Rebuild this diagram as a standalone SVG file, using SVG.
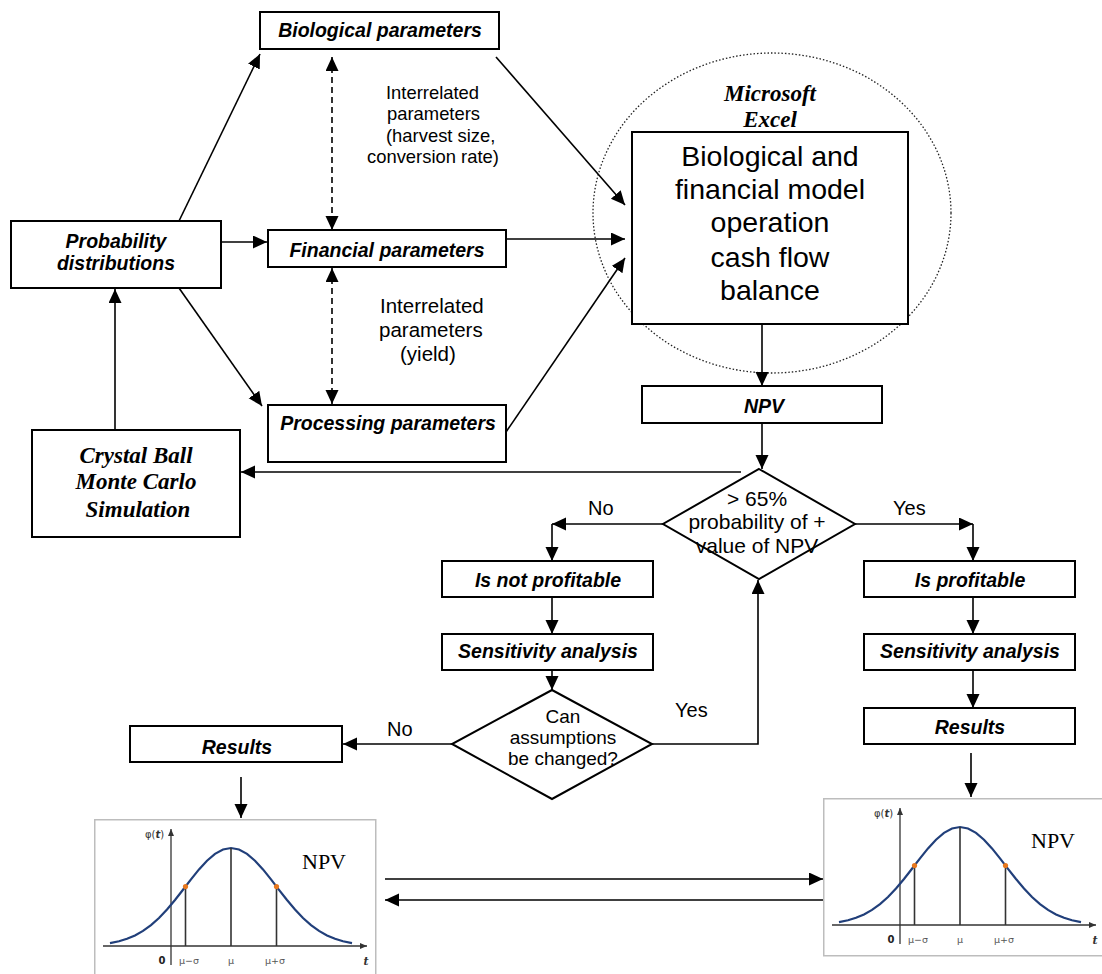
<svg xmlns="http://www.w3.org/2000/svg" width="1102" height="974" viewBox="0 0 1102 974">
<defs>
<style>
.box{fill:#fff;stroke:#000;stroke-width:2}
.ln{fill:none;stroke:#000;stroke-width:1.6}
.dash{fill:none;stroke:#000;stroke-width:1.6;stroke-dasharray:6 4}
.bt{font-family:"Liberation Sans",Arial,sans-serif;font-weight:bold;font-style:italic;font-size:19.5px;text-anchor:middle;fill:#000}
.st{font-family:"Liberation Serif","Times New Roman",serif;font-weight:bold;font-style:italic;font-size:23px;text-anchor:middle;fill:#000}
.rt{font-family:"Liberation Sans",Arial,sans-serif;font-size:20px;fill:#000}
.lab1{font-family:"Liberation Sans",Arial,sans-serif;font-size:18.4px;fill:#000}
.lab2{font-family:"Liberation Sans",Arial,sans-serif;font-size:20.5px;fill:#000}
.big{font-family:"Liberation Sans",Arial,sans-serif;font-size:28.5px;text-anchor:middle;fill:#000}
.d1{font-family:"Liberation Sans",Arial,sans-serif;font-size:21px;text-anchor:middle;fill:#000}
.d2{font-family:"Liberation Sans",Arial,sans-serif;font-size:19px;text-anchor:middle;fill:#000}
.cl{font-family:"DejaVu Sans",sans-serif;font-size:9.5px;fill:#555;text-anchor:middle}
</style>
<marker id="ah" markerUnits="userSpaceOnUse" markerWidth="15" markerHeight="14" refX="14" refY="6.5" orient="auto"><path d="M0,0 L14,6.5 L0,13 Z" fill="#000"/></marker>
<marker id="ahs" markerUnits="userSpaceOnUse" markerWidth="15" markerHeight="14" refX="14" refY="6.5" orient="auto-start-reverse"><path d="M0,0 L14,6.5 L0,13 Z" fill="#000"/></marker>
<marker id="sm" markerUnits="userSpaceOnUse" markerWidth="8" markerHeight="7" refX="7" refY="3" orient="auto"><path d="M0,0 L7,3 L0,6 Z" fill="#333"/></marker>
<g id="chart">
<rect x="0.75" y="0.75" width="281" height="157" fill="#fff" stroke="#bdbdbd" stroke-width="1.5"/>
<line x1="9" y1="127" x2="273" y2="127" stroke="#333" stroke-width="1.3" marker-end="url(#sm)"/>
<line x1="77" y1="146" x2="77" y2="10" stroke="#333" stroke-width="1.3" marker-end="url(#sm)"/>
<polyline fill="none" stroke="#213f7a" stroke-width="2.2" points="16,124.1 25,122.3 33,119.8 41,116.4 49,111.9 57,106.1 65,99 73,90.5 81,81 89,70.8 97,60.4 105,50.4 113,41.7 121,34.9 129,30.5 137,29 145,30.5 153,34.9 161,41.7 169,50.4 177,60.4 185,70.8 193,81 201,90.5 209,99 217,106.1 225,111.9 233,116.4 241,119.8 249,122.3 258,124.1"/>
<g stroke="#333" stroke-width="1.6">
<line x1="91.5" y1="67.6" x2="91.5" y2="127"/>
<line x1="137" y1="29" x2="137" y2="127"/>
<line x1="182.5" y1="67.6" x2="182.5" y2="127"/>
</g>
<circle cx="91.5" cy="67.6" r="2.6" fill="#e8781e"/>
<circle cx="182.5" cy="67.6" r="2.6" fill="#e8781e"/>
<text x="51" y="19" font-family="DejaVu Sans,sans-serif" font-size="10px" fill="#333">φ(<tspan font-style="italic" font-weight="bold">t</tspan>)</text>
<text x="68" y="145" font-family="DejaVu Sans,sans-serif" font-size="10px" font-weight="bold" fill="#222" text-anchor="middle">0</text>
<text x="95" y="145" class="cl">μ−σ</text>
<text x="137" y="145" class="cl">μ</text>
<text x="181" y="145" class="cl">μ+σ</text>
<text x="272" y="146" font-family="DejaVu Serif,serif" font-size="11px" font-style="italic" font-weight="bold" fill="#333" text-anchor="middle">t</text>
<text x="208" y="50" font-family="Liberation Serif,'Times New Roman',serif" font-size="22px" fill="#000">NPV</text>
</g>
</defs>
<rect width="1102" height="974" fill="#fff"/>

<g id="excel-zone">
<ellipse cx="772" cy="213" rx="179" ry="160" fill="none" stroke="#222" stroke-width="1.3" stroke-dasharray="1.5 2"/>
<text x="770" y="101" class="st">Microsoft</text>
<text x="770" y="127" class="st">Excel</text>
</g>

<g id="connectors">
<line class="ln" x1="179" y1="221" x2="260" y2="54" marker-end="url(#ah)"/>
<line class="ln" x1="221" y1="242" x2="267" y2="242" marker-end="url(#ah)"/>
<line class="ln" x1="179" y1="288" x2="262" y2="406" marker-end="url(#ah)"/>
<line class="ln" x1="115" y1="430" x2="115" y2="289" marker-end="url(#ah)"/>
<line class="dash" x1="332" y1="57" x2="332" y2="230" marker-start="url(#ahs)" marker-end="url(#ahs)"/>
<line class="dash" x1="332" y1="268" x2="332" y2="404" marker-start="url(#ahs)" marker-end="url(#ahs)"/>
<line class="ln" x1="496" y1="57" x2="625" y2="205" marker-end="url(#ah)"/>
<line class="ln" x1="506" y1="239" x2="625" y2="239" marker-end="url(#ah)"/>
<line class="ln" x1="506" y1="432" x2="625" y2="258" marker-end="url(#ah)"/>
<line class="ln" x1="762" y1="324" x2="762" y2="386" marker-end="url(#ah)"/>
<line class="ln" x1="762" y1="423" x2="762" y2="469" marker-end="url(#ah)"/>
<line class="ln" x1="741" y1="472" x2="241" y2="472" marker-end="url(#ah)"/>
<line class="ln" x1="663" y1="524" x2="552" y2="524" marker-end="url(#ah)"/>
<line class="ln" x1="552" y1="524" x2="552" y2="561" marker-end="url(#ah)"/>
<line class="ln" x1="855" y1="524" x2="973" y2="524" marker-end="url(#ah)"/>
<line class="ln" x1="973" y1="524" x2="973" y2="561" marker-end="url(#ah)"/>
<line class="ln" x1="552" y1="597" x2="552" y2="634" marker-end="url(#ah)"/>
<line class="ln" x1="552" y1="670" x2="552" y2="690" marker-end="url(#ah)"/>
<line class="ln" x1="452" y1="744" x2="343" y2="744" marker-end="url(#ah)"/>
<polyline class="ln" points="652,744 758,744 758,580" marker-end="url(#ah)"/>
<line class="ln" x1="973" y1="597" x2="973" y2="634" marker-end="url(#ah)"/>
<line class="ln" x1="973" y1="670" x2="973" y2="708" marker-end="url(#ah)"/>
<line class="ln" x1="971" y1="753" x2="971" y2="797" marker-end="url(#ah)"/>
<line class="ln" x1="241" y1="777" x2="241" y2="818" marker-end="url(#ah)"/>
<line class="ln" x1="385" y1="879" x2="823" y2="879" marker-end="url(#ah)"/>
<line class="ln" x1="823" y1="900" x2="385" y2="900" marker-end="url(#ah)"/>
<text x="588" y="515" class="rt">No</text>
<text x="893" y="515" class="rt">Yes</text>
<text x="387" y="736" class="rt">No</text>
<text x="675" y="717" class="rt">Yes</text>
<text x="386" y="99" class="lab1">Interrelated</text>
<text x="387" y="120" class="lab1">parameters</text>
<text x="386" y="142" class="lab1">(harvest size,</text>
<text x="367" y="163" class="lab1">conversion rate)</text>
<text x="380" y="313" class="lab2">Interrelated</text>
<text x="379" y="337" class="lab2">parameters</text>
<text x="400" y="361" class="lab2">(yield)</text>
</g>

<g id="biological">
<rect class="box" x="260" y="12" width="239" height="37"/>
<text x="380" y="37" class="bt">Biological parameters</text>
</g>
<g id="financial">
<rect class="box" x="268" y="230" width="238" height="37"/>
<text x="387" y="257" class="bt">Financial parameters</text>
</g>
<g id="processing">
<rect class="box" x="268" y="405" width="238" height="57"/>
<text x="388" y="430" class="bt">Processing parameters</text>
</g>
<g id="probability">
<rect class="box" x="11" y="221" width="210" height="67"/>
<text x="116" y="248" class="bt">Probability</text>
<text x="116" y="270" class="bt">distributions</text>
</g>
<g id="crystal-ball">
<rect class="box" x="32" y="430" width="208" height="107"/>
<text x="136" y="463" class="st">Crystal Ball</text>
<text x="136" y="489" class="st">Monte Carlo</text>
<text x="138" y="517" class="st">Simulation</text>
</g>
<g id="model">
<rect class="box" x="632" y="132" width="276" height="192"/>
<text x="770" y="166" class="big">Biological and</text>
<text x="770" y="199" class="big">financial model</text>
<text x="770" y="232" class="big">operation</text>
<text x="770" y="267" class="big">cash flow</text>
<text x="770" y="300" class="big">balance</text>
</g>
<g id="npv">
<rect class="box" x="642" y="386" width="240" height="37"/>
<text x="764" y="413" class="bt">NPV</text>
</g>
<g id="decision-npv">
<polygon class="box" points="759,469 855,524 759,579 663,524"/>
<text x="757" y="506" class="d1">&gt; 65%</text>
<text x="757" y="529" class="d1">probability of +</text>
<text x="757" y="553" class="d1">value of NPV</text>
</g>
<g id="not-profitable">
<rect class="box" x="442" y="561" width="211" height="36"/>
<text x="548" y="587" class="bt">Is not profitable</text>
</g>
<g id="sensitivity-left">
<rect class="box" x="442" y="634" width="211" height="36"/>
<text x="548" y="658" class="bt">Sensitivity analysis</text>
</g>
<g id="decision-assumptions">
<polygon class="box" points="552,690 652,744 552,799 452,744"/>
<text x="563" y="723" class="d2">Can</text>
<text x="563" y="744" class="d2">assumptions</text>
<text x="563" y="765" class="d2">be changed?</text>
</g>
<g id="results-left">
<rect class="box" x="130" y="726" width="212" height="36"/>
<text x="237" y="754" class="bt">Results</text>
</g>
<g id="profitable">
<rect class="box" x="864" y="561" width="211" height="36"/>
<text x="970" y="587" class="bt">Is profitable</text>
</g>
<g id="sensitivity-right">
<rect class="box" x="864" y="634" width="211" height="36"/>
<text x="970" y="658" class="bt">Sensitivity analysis</text>
</g>
<g id="results-right">
<rect class="box" x="864" y="708" width="211" height="36"/>
<text x="970" y="734" class="bt">Results</text>
</g>
<g id="chart-left">
<use href="#chart" x="94" y="819"/>
</g>
<g id="chart-right">
<use href="#chart" x="823" y="798"/>
</g>
</svg>
